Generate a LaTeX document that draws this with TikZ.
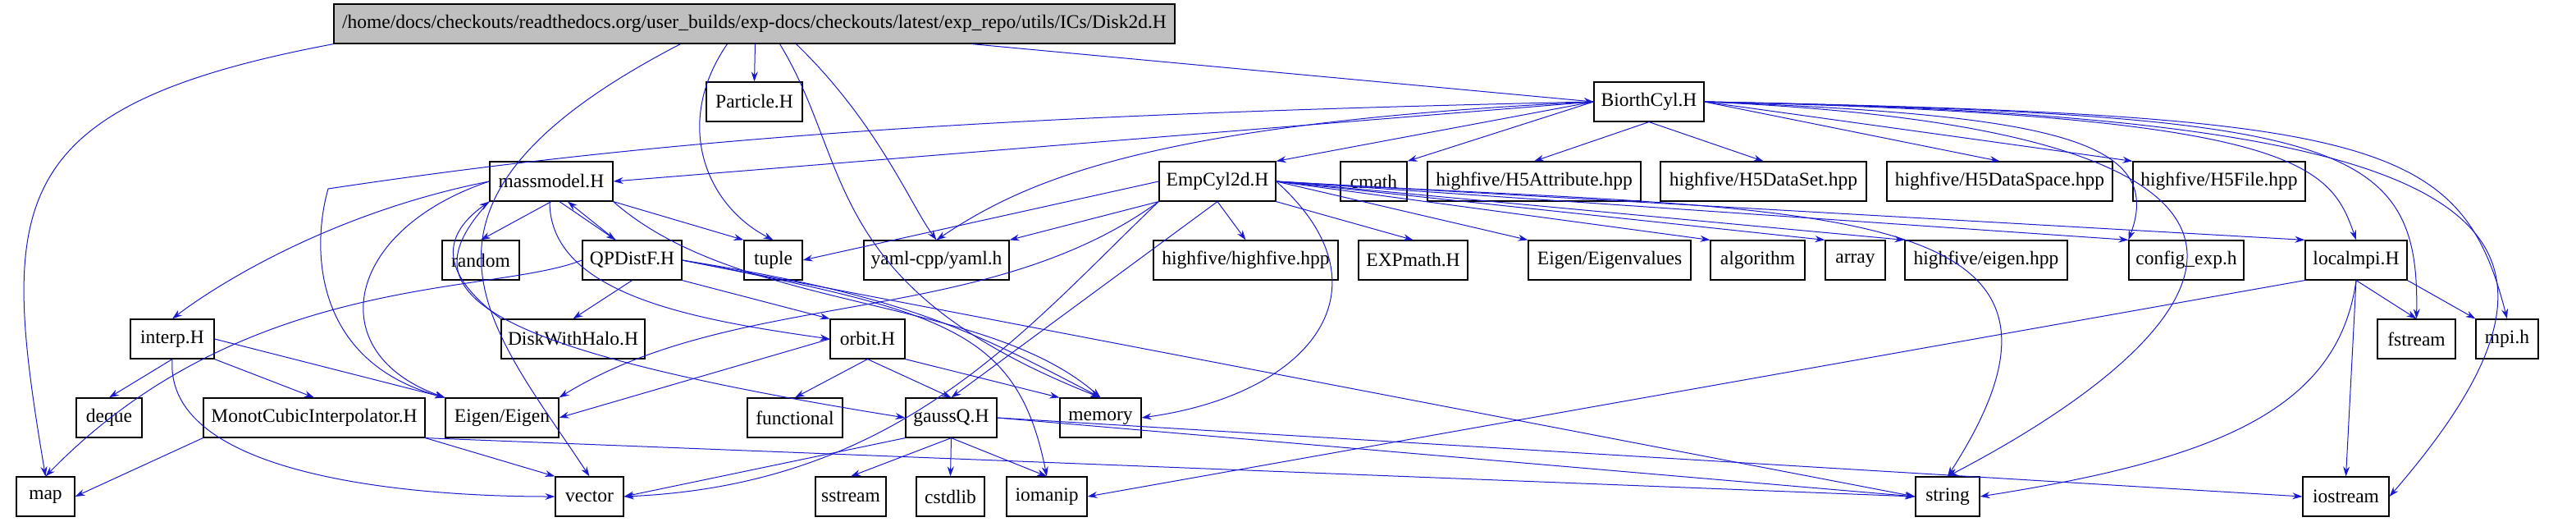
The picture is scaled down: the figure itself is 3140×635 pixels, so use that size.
\documentclass[tikz,border=0pt]{standalone}
\usepackage{fontspec}
\setmainfont{Liberation Serif}
\usetikzlibrary{arrows.meta}
\definecolor{eblue}{RGB}{26,26,205}
\tikzset{
  nb/.style={draw=black,fill=white,line width=1.2pt,minimum height=48pt,inner sep=0pt,font=\fontsize{23.5}{24}\selectfont},
  e/.style={draw=eblue,line width=1pt,-{Stealth[length=12pt,width=8pt]}}
}
\newcommand{\nd}[5]{\node[nb,minimum width={#3-#2}] (#1) at ({(#2+#3)/2},#4) {#5};}
\begin{document}
\begin{tikzpicture}[x=1pt,y=-1pt]
\useasboundingbox (0,0) rectangle (3140,635);
\node[nb,fill=black!25,minimum width=1025pt] (disk) at (919.5,29) {/home/docs/checkouts/readthedocs.org/user\_builds/exp-docs/checkouts/latest/exp\_repo/utils/ICs/Disk2d.H};
\def\ra{124}\def\rb{221}\def\rc{317}\def\rd{413}\def\re{509}\def\rf{605}
\nd{part}{861}{978}{\ra}{Particle.H}
\nd{bio}{1943}{2077}{\ra}{BiorthCyl.H}
\nd{mass}{597}{747}{\rb}{massmodel.H}
\nd{emp}{1413}{1555}{\rb}{EmpCyl2d.H}
\nd{cmath}{1634}{1715}{\rb}{cmath}
\nd{hatt}{1740}{2000}{\rb}{highfive/H5Attribute.hpp}
\nd{hds}{2024}{2275}{\rb}{highfive/H5DataSet.hpp}
\nd{hdsp}{2300}{2575}{\rb}{highfive/H5DataSpace.hpp}
\nd{hfile}{2600}{2810}{\rb}{highfive/H5File.hpp}
\nd{random}{539}{633}{\rc}{random}
\nd{qp}{710}{831}{\rc}{QPDistF.H}
\nd{tuple}{907}{978}{\rc}{tuple}
\nd{yaml}{1053}{1230}{\rc}{yaml-cpp/yaml.h}
\nd{hh}{1406}{1631}{\rc}{highfive/highfive.hpp}
\nd{expm}{1656}{1789}{\rc}{EXPmath.H}
\nd{eev}{1863}{2061}{\rc}{Eigen/Eigenvalues}
\nd{algo}{2085}{2200}{\rc}{algorithm}
\nd{array}{2225}{2298}{\rc}{array}
\nd{heig}{2322}{2520}{\rc}{highfive/eigen.hpp}
\nd{conf}{2595}{2735}{\rc}{config\_exp.h}
\nd{lmpi}{2810}{2934}{\rc}{localmpi.H}
\nd{interp}{159}{261}{\rd}{interp.H}
\nd{dwh}{611}{786}{\rd}{DiskWithHalo.H}
\nd{orbit}{1012}{1103}{\rd}{orbit.H}
\nd{fstream}{2898}{2993}{\rd}{fstream}
\nd{mpih}{3018}{3094}{\rd}{mpi.h}
\nd{deque}{93}{173}{\re}{deque}
\nd{mono}{248}{518}{\re}{MonotCubicInterpolator.H}
\nd{eigen}{543}{681}{\re}{Eigen/Eigen}
\nd{func}{911}{1027}{\re}{functional}
\nd{gauss}{1104}{1215}{\re}{gaussQ.H}
\nd{memory}{1292}{1391}{\re}{memory}
\nd{map}{20}{91}{\rf}{map}
\nd{vector}{677}{760}{\rf}{vector}
\nd{sstream}{994}{1080}{\rf}{sstream}
\nd{cstdlib}{1117}{1200}{\rf}{cstdlib}
\nd{iomanip}{1227}{1325}{\rf}{iomanip}
\nd{string}{2335}{2413}{\rf}{string}
\nd{iostream}{2807}{2912}{\rf}{iostream}
% Disk2d
\draw[e] (disk.south west) .. controls (0,130) and (0,250) .. (map.north);
\draw[e] ([xshift=-90pt]disk.south) .. controls (450,250) and (600,400) .. (vector.north);
\draw[e] ([xshift=-33pt]disk.south) .. controls (820,150) and (860,250) .. (tuple.north);
\draw[e] ([xshift=1pt]disk.south) -- (part.north);
\draw[e] ([xshift=31pt]disk.south) .. controls (1040,200) and (1000,350) .. (memory.north);
\draw[e] ([xshift=51pt]disk.south) .. controls (1070,150) and (1110,250) .. (yaml.north);
\draw[e] ([xshift=265pt]disk.south) -- (bio.west);
% BiorthCyl
\draw[e] (bio.west) -- (mass.east);
\draw[e] (bio.west) -- (emp.north east);
\draw[e] (bio.west) -- (cmath.north east);
\draw[e] (bio.south) -- (hatt.north);
\draw[e] (bio.south) -- (hds.north);
\draw[e] (bio.east) -- (hdsp.north);
\draw[e] (bio.east) -- (hfile.north west);
\draw[e] (bio.west) .. controls (1400,150) and (1250,220) .. (yaml.north);
\draw[e] (bio.west) .. controls (1200,140) and (800,170) .. (400,230) .. controls (380,300) and (380,440) .. (eigen.north west);
\draw[e] (bio.east) .. controls (2500,140) and (2640,170) .. (conf.north west);
\draw[e] (bio.east) .. controls (2800,140) and (2840,200) .. (lmpi.north);
\draw[e] (bio.east) .. controls (2850,140) and (2950,170) .. (fstream.north);
\draw[e] (bio.east) .. controls (2900,140) and (3000,170) .. (mpih.north);
\draw[e] (bio.east) .. controls (3000,140) and (3220,250) .. (iostream.east);
\draw[e] (bio.east) .. controls (2900,160) and (2720,400) .. (string.north);
% EmpCyl2d
\draw[e] (emp.west) -- (tuple.east);
\draw[e] (emp.south west) -- (yaml.north east);
\draw[e] (emp.south) -- (hh.north);
\draw[e] (emp.south east) -- (expm.north);
\draw[e] (emp.east) -- (eev.north west);
\draw[e] (emp.east) -- (algo.north west);
\draw[e] (emp.east) -- (array.north west);
\draw[e] (emp.east) -- (heig.north west);
\draw[e] (emp.east) -- (conf.north west);
\draw[e] (emp.east) -- (lmpi.north west);
\draw[e] (emp.east) .. controls (2200,260) and (2600,230) .. (string.north);
\draw[e] (emp.east) .. controls (1700,350) and (1600,480) .. (memory.east);
\draw[e] (emp.south) -- (gauss.north);
\draw[e] (emp.south west) .. controls (1250,400) and (1100,590) .. (vector.east);
\draw[e] (emp.south west) .. controls (1200,400) and (900,350) .. (eigen.north east);
% massmodel
\draw[e] (mass.south) -- (random.north);
\draw[e] ([xshift=10pt]mass.south) -- ([xshift=-20pt]qp.north);
\draw[e] ([xshift=-20pt]qp.north) -- ([xshift=20pt]mass.south);
\draw[e] (mass.south east) -- (tuple.north west);
\draw[e] (mass.west) .. controls (400,260) and (260,350) .. (interp.north);
\draw[e] (mass.west) .. controls (420,280) and (390,430) .. (eigen.north west);
\draw[e] ([xshift=-2pt]mass.south) .. controls (670,360) and (850,390) .. (orbit.west);
\draw[e] (mass.south east) .. controls (900,380) and (1200,360) .. (memory.north);
\draw[e] (mass.south west) .. controls (500,350) and (550,420) .. (gauss.west);
% QPDistF
\draw[e] (qp.south) -- (dwh.north);
\draw[e] (qp.south east) -- (orbit.north west);
\draw[e] (qp.west) .. controls (600,360) and (300,330) .. (map.north);
\draw[e] (qp.east) .. controls (1100,360) and (1180,400) .. (memory.north);
\draw[e] (qp.east) .. controls (1150,380) and (1240,400) .. (iomanip.north);
\draw[e] (qp.east) -- (string.west);
% DiskWithHalo
\draw[e] (dwh.north west) .. controls (560,350) and (520,300) .. (mass.south west);
% interp
\draw[e] (interp.south) -- (deque.north);
\draw[e] (interp.south east) -- (mono.north);
\draw[e] (interp.east) -- (eigen.north west);
\draw[e] (interp.south) .. controls (200,580) and (500,605) .. (vector.west);
% Monot
\draw[e] (mono.south west) -- (map.east);
\draw[e] (mono.south east) -- (vector.north west);
\draw[e] (mono.south east) -- (string.west);
% orbit
\draw[e] (orbit.south) -- (func.north);
\draw[e] (orbit.south) -- (gauss.north);
\draw[e] (orbit.south east) -- (memory.north west);
\draw[e] (orbit.west) -- (eigen.east);
% gaussQ
\draw[e] (gauss.south) -- (sstream.north);
\draw[e] (gauss.south) -- (cstdlib.north);
\draw[e] (gauss.south) -- (iomanip.north);
\draw[e] (gauss.south west) -- (vector.east);
\draw[e] (gauss.east) -- (string.west);
\draw[e] (gauss.east) -- (iostream.west);
% localmpi
\draw[e] (lmpi.south) -- (fstream.north);
\draw[e] (lmpi.south east) -- (mpih.north west);
\draw[e] (lmpi.south) -- (iostream.north);
\draw[e] (lmpi.south) .. controls (2850,500) and (2700,560) .. (string.east);
\draw[e] (lmpi.south west) -- (iomanip.east);
\end{tikzpicture}
\end{document}
